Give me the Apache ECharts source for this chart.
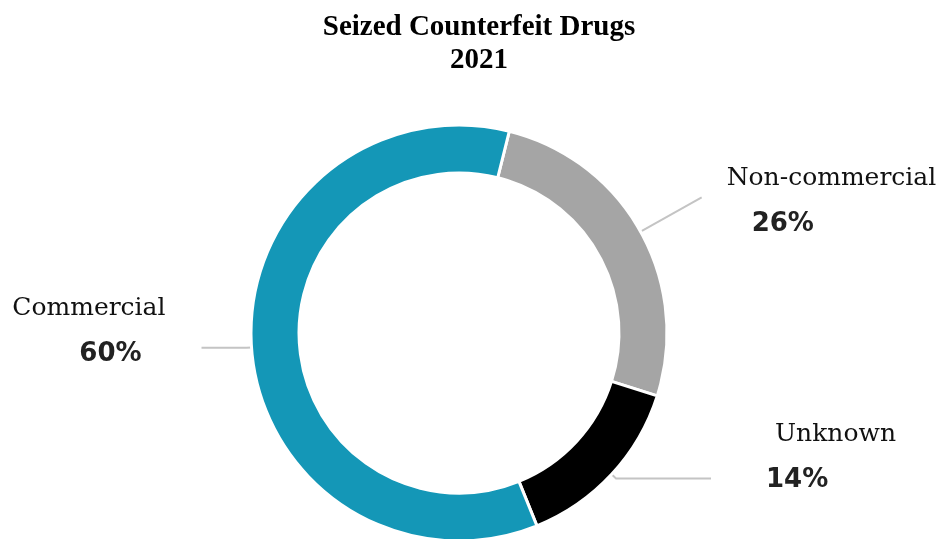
<!DOCTYPE html>
<html>
<head>
<meta charset="utf-8">
<script src="https://cdn.jsdelivr.net/npm/echarts@6/dist/echarts.min.js"></script>
<style>
html,body{margin:0;padding:0;background:#fff;}
#main{width:941px;height:539px;}
</style>
</head>
<body>
<div id="main"></div>
<script>
// Data
const titleLines = ['Seized Counterfeit Drugs', '2021'];
const categories = ['Non-commercial', 'Unknown', 'Commercial'];
const values = [26, 14, 60];
const colors = ['#a5a5a5', '#000000', '#1497b7'];

// per-label styling (text offsets only)
const labelStyles = [
  { pad: [8, 0, 0, 0], nPad: [0, 0, 0, 20], pPad: [0, 0, 0, 45], len: 70, len2: 0 },
  { pad: [0, 0, 42, 0], nPad: [0, 0, 0, 59], pPad: [0, 0, 0, 50], len: 6, len2: 95 },
  { pad: [0, 0, 33, 0], nPad: [0, 31, 0, 0], pPad: [0, 55, 0, 0], len: 5, len2: 45 }
];

const chart = echarts.init(document.getElementById('main'));
const data = categories.map((name, i) => ({
  name: name,
  value: values[i],
  itemStyle: { color: colors[i] },
  label: {
    padding: labelStyles[i].pad,
    rich: {
      n: { fontFamily: 'DejaVu Serif', fontSize: 25, color: '#111', lineHeight: 46, padding: labelStyles[i].nPad },
      p: { fontFamily: 'DejaVu Sans', fontWeight: 'bold', fontSize: 26, color: '#222', lineHeight: 46, padding: labelStyles[i].pPad }
    }
  },
  labelLine: { length: labelStyles[i].len, length2: labelStyles[i].len2 }
}));

chart.setOption({
  animation: false,
  title: {
    text: titleLines.join('\n'),
    left: 474,
    top: 6,
    textAlign: 'center',
    textStyle: { fontFamily: 'Liberation Serif', fontWeight: 'bold', fontSize: 29, lineHeight: 33, color: '#000' }
  },
  series: [{
    type: 'pie',
    center: [459, 333],
    radius: [160, 208],
    startAngle: 76,
    clockwise: true,
    avoidLabelOverlap: false,
    itemStyle: { borderColor: '#fff', borderWidth: 3 },
    label: {
      show: true,
      position: 'outside',
      formatter: p => '{n|' + p.name + '}\n{p|' + p.value + '%}'
    },
    labelLine: { show: true, lineStyle: { color: '#c4c4c4', width: 2 } },
    emphasis: { disabled: true },
    data: data
  }]
});
</script>
</body>
</html>
